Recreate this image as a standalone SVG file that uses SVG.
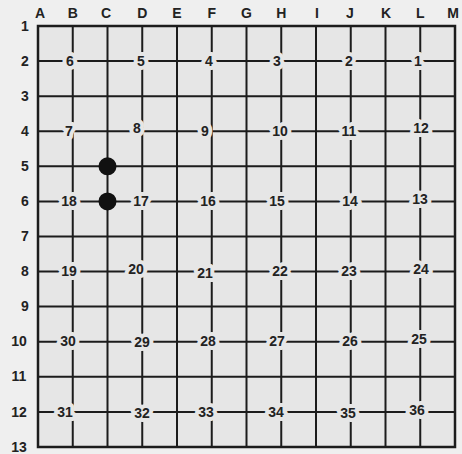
<svg xmlns="http://www.w3.org/2000/svg" width="462" height="454" viewBox="0 0 462 454">
<style>
.ln{stroke:#1c1c1c;stroke-width:2;fill:none}
.lab{font-family:"Liberation Sans",Arial,sans-serif;font-weight:bold;font-size:14px;fill:#222;text-anchor:middle}
.n{font-family:"Liberation Sans",Arial,sans-serif;font-weight:bold;font-size:14px;fill:#222;text-anchor:middle;stroke:#e6e6e6;stroke-width:8;paint-order:stroke;stroke-linejoin:round}
.stone{fill:#111}
</style>
<rect width="462" height="454" fill="#efefef"/>
<rect x="38" y="26" width="417" height="421" fill="#e6e6e6"/>
<g id="grid">
<g class="ln">
<path d="M72.75 26V447M107.5 26V447M142.25 26V447M177 26V447M211.75 26V447M246.5 26V447M281.25 26V447M316 26V447M350.75 26V447M385.5 26V447M420.25 26V447"/>
<path d="M38 61.1H455M38 96.2H455M38 131.2H455M38 166.3H455M38 201.4H455M38 236.5H455M38 271.6H455M38 306.6H455M38 341.7H455M38 376.8H455M38 411.9H455"/>
<rect x="38" y="26" width="417" height="421" stroke-width="2.5"/>
</g>
</g>
<g id="col-labels" class="lab">
<text x="40" y="18">A</text><text x="72.75" y="18">B</text><text x="106" y="18">C</text><text x="142.25" y="18">D</text><text x="177" y="18">E</text><text x="211.75" y="18">F</text><text x="246.5" y="18">G</text><text x="281.25" y="18">H</text><text x="317" y="18">I</text><text x="350" y="18">J</text><text x="386" y="18">K</text><text x="420.25" y="18">L</text><text x="453" y="18">M</text>
</g>
<g id="row-labels" class="lab">
<text x="25" y="31">1</text><text x="25" y="66">2</text><text x="25" y="101">3</text><text x="25" y="136">4</text><text x="25" y="171">5</text><text x="25" y="206">6</text><text x="25" y="241">7</text><text x="25" y="276">8</text><text x="25" y="311">9</text><text x="19" y="346">10</text><text x="19" y="381">11</text><text x="19" y="417">12</text><text x="19" y="452">13</text>
</g>
<g id="numbers" class="n">
<text x="70" y="66">6</text><text x="141" y="66">5</text><text x="209" y="66">4</text><text x="277" y="66">3</text><text x="349" y="66">2</text><text x="418" y="66">1</text>
<text x="69" y="136">7</text><text x="137" y="133">8</text><text x="205" y="136">9</text><text x="280" y="136">10</text><text x="349" y="136">11</text><text x="421" y="133">12</text>
<text x="69" y="206">18</text><text x="141" y="206">17</text><text x="208" y="206">16</text><text x="277" y="206">15</text><text x="350" y="206">14</text><text x="420" y="204">13</text>
<text x="69" y="276">19</text><text x="136" y="274">20</text><text x="205" y="278">21</text><text x="280" y="276">22</text><text x="349" y="276">23</text><text x="421" y="274">24</text>
<text x="68" y="346">30</text><text x="142" y="347">29</text><text x="208" y="346">28</text><text x="277" y="346">27</text><text x="350" y="346">26</text><text x="419" y="344">25</text>
<text x="65" y="417">31</text><text x="142" y="418">32</text><text x="206" y="417">33</text><text x="276" y="417">34</text><text x="348" y="418">35</text><text x="417" y="415">36</text>
</g>
<g id="stones">
<circle class="stone" cx="107.5" cy="166.3" r="9"/>
<circle class="stone" cx="107.5" cy="201.4" r="9"/>
</g>
</svg>
